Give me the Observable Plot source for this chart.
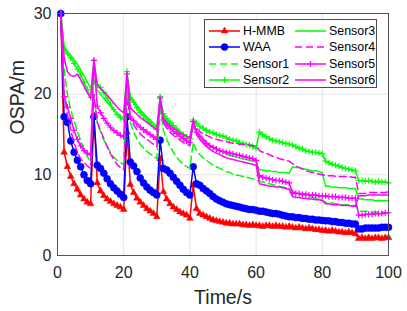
<!DOCTYPE html>
<html><head><meta charset="utf-8">
<script src="https://cdn.jsdelivr.net/npm/d3@7"></script>
<script src="https://cdn.jsdelivr.net/npm/@observablehq/plot@0.6"></script>
<style>
body{margin:0;background:#fff;}
#wrap{position:relative;width:407px;height:311px;font-family:"Liberation Sans",Arial,Helvetica,sans-serif;}
#legend{position:absolute;left:204px;top:19px;width:171px;height:67px;border:1px solid #4d4d4d;background:#fff;}
.item{position:absolute;height:14px;display:flex;align-items:center;font-size:12.4px;color:#000;white-space:nowrap;}
.item svg{display:block;margin-right:2px;}
</style></head>
<body><div id="wrap"><div id="chart"></div><div id="legend"></div></div>
<script>
const time = d3.range(1, 101);

const hmmb = [30,12.8,11.0,9.8,8.9,8.2,7.5,7.0,6.6,6.4,
17.4,9.0,8.0,7.4,7.0,6.7,6.4,6.2,6.0,5.7,
15.3,8.8,7.8,7.1,6.6,6.2,5.8,5.5,5.2,4.8,
12.0,7.9,7.0,6.4,6.0,5.7,5.4,5.2,5.0,4.6,
8.7,5.8,5.2,5.0,4.8,4.6,4.4,4.3,4.2,4.1,
4.0,4.0,3.9,3.9,3.9,3.8,3.8,3.7,3.8,3.7,
3.7,3.6,3.7,3.7,3.6,3.7,3.6,3.6,3.5,3.6,
3.5,3.4,3.5,3.4,3.3,3.4,3.3,3.2,3.2,3.1,
3.1,3.0,3.1,3.0,2.9,2.9,2.8,2.9,2.8,2.7,
2.1,2.2,2.1,2.2,2.1,2.2,2.2,2.1,2.2,2.2];

const waa = [30,17.2,16.5,14.2,12.8,11.8,11.0,10.0,9.3,8.9,
17.2,11.2,10.8,10.2,9.5,8.9,8.4,8.0,7.6,7.2,
17.2,11.6,11.1,10.4,9.6,9.0,8.5,8.1,7.8,7.5,
14.3,10.8,10.6,10.2,9.7,9.2,8.7,8.2,7.8,7.5,
11.0,8.9,8.7,8.3,8.0,7.7,7.3,7.0,6.8,6.6,
6.4,6.3,6.2,6.1,6.0,5.9,5.8,5.7,5.7,5.6,
5.5,5.5,5.4,5.3,5.2,5.2,5.1,5.0,4.9,4.8,
4.8,4.7,4.7,4.6,4.6,4.5,4.5,4.4,4.4,4.35,
4.3,4.3,4.2,4.2,4.1,4.1,4.0,4.0,3.9,3.9,
3.3,3.3,3.4,3.4,3.4,3.4,3.4,3.5,3.5,3.5];

const sensor1 = [30,23.0,20.0,18.0,16.8,15.4,14.2,13.2,12.3,11.6,
20.0,16.5,15.3,14.3,13.5,12.8,12.2,11.8,11.5,11.3,
20.5,16.5,15.3,14.5,13.8,13.3,12.9,12.6,12.3,12.0,
18.5,15.5,14.4,13.5,12.8,12.2,11.7,11.3,11.0,10.8,
14.0,13.0,12.5,12.1,11.8,11.5,11.2,11.0,10.8,10.6,
10.4,10.3,10.1,10.0,9.9,9.8,9.7,9.6,9.5,9.4,
9.2,9.1,9.0,8.9,8.8,8.7,8.6,8.5,8.4,8.3,
8.0,7.8,7.6,7.5,7.4,7.3,7.2,7.1,7.0,6.9,
6.6,6.5,6.5,6.4,6.4,6.3,6.3,6.3,6.2,6.2,
5.5,5.5,5.5,5.4,5.4,5.4,5.4,5.4,5.3,5.3];

const sensor2 = [30,25.5,25.0,24.5,23.8,23.1,22.4,21.5,20.6,19.6,
24.2,21.2,20.8,20.2,19.5,18.8,18.1,17.5,17.1,16.9,
22.8,19.5,19.0,18.3,17.7,17.3,16.9,16.5,16.0,15.6,
19.7,17.6,17.0,16.5,16.1,15.7,15.3,15.0,14.7,14.5,
16.8,16.4,16.0,15.8,15.5,15.3,15.2,15.0,14.9,14.8,
14.6,14.4,14.3,14.2,14.0,13.9,13.8,13.7,13.5,13.3,
15.3,15.0,14.7,14.5,14.3,14.2,14.1,14.0,13.9,13.8,
13.7,13.5,13.3,13.2,13.0,12.9,12.8,12.8,12.7,12.6,
11.7,11.5,11.3,11.2,11.1,10.9,10.8,10.7,10.6,10.5,
9.3,9.3,9.2,9.3,9.2,9.1,9.2,9.1,9.1,9.0];

const sensor3 = [30,26.0,25.3,24.8,24.3,23.7,23.0,22.3,21.5,20.8,
21.8,20.5,20.0,19.5,19.0,18.5,18.0,17.6,17.3,17.0,
21.5,19.8,19.2,18.6,18.1,17.6,17.2,16.8,16.4,16.0,
18.5,17.3,16.8,16.3,15.9,15.5,15.2,14.9,14.6,14.4,
16.0,15.3,14.8,14.4,14.0,13.7,13.4,13.2,13.0,12.8,
12.6,12.4,12.3,12.2,12.1,12.0,11.9,11.8,11.7,11.6,
10.6,10.6,10.5,10.5,10.4,10.4,10.3,10.3,10.3,10.2,
11.0,10.9,10.9,10.8,10.7,10.6,10.5,10.5,10.4,10.3,
8.6,8.6,8.5,8.5,8.4,8.4,8.4,8.3,8.3,8.3,
7.0,7.0,6.9,6.9,6.9,6.8,6.8,6.8,6.8,6.8];

const sensor4 = [30,20.0,17.5,15.5,14.0,12.8,12.0,11.5,11.1,10.8,
20.0,16.5,15.5,14.5,13.5,12.6,11.9,11.3,10.9,10.6,
19.5,17.0,16.2,15.6,15.1,14.7,14.4,14.1,13.8,13.5,
19.0,16.5,15.8,15.3,14.9,14.6,14.3,14.0,13.8,13.6,
16.5,15.8,15.4,15.1,14.9,14.7,14.5,14.4,14.3,14.2,
14.1,14.0,13.9,13.9,13.8,13.8,13.7,13.7,13.6,13.6,
13.0,12.8,12.7,12.5,12.3,12.2,12.0,11.9,11.8,11.7,
11.4,11.1,10.9,10.7,10.5,10.4,10.3,10.2,10.1,10.0,
9.9,9.9,9.9,9.8,9.8,9.8,9.8,9.8,9.7,9.7,
7.7,7.7,7.7,7.8,7.8,7.8,7.8,7.8,7.8,7.9];

const sensor5 = [30,19.7,18.4,17.0,15.5,14.4,13.6,13.0,12.7,12.5,
24.2,18.5,17.7,17.0,16.4,15.9,15.5,15.2,14.9,14.7,
22.5,17.2,16.7,16.3,15.9,15.6,15.3,15.0,14.7,14.4,
19.5,16.8,16.2,15.8,15.4,15.1,14.8,14.5,14.2,14.0,
16.6,15.3,14.8,14.3,13.9,13.6,13.4,13.2,13.0,12.9,
12.8,12.7,12.6,12.5,12.4,12.3,12.2,12.1,12.0,11.8,
9.9,9.7,9.6,9.5,9.4,9.3,9.3,9.2,9.1,9.0,
7.8,7.7,7.7,7.6,7.6,7.5,7.5,7.5,7.4,7.4,
7.4,7.3,7.3,7.3,7.2,7.2,7.2,7.1,7.1,7.1,
5.0,5.0,5.1,5.1,5.1,5.2,5.2,5.2,5.3,5.3];

const sensor6 = [30,24.5,22.8,22.3,22.2,22.5,21.8,21.0,20.2,19.5,
24.2,21.1,20.7,20.3,19.9,19.4,18.9,18.4,18.0,17.7,
22.5,18.3,17.9,17.5,17.1,16.8,16.5,16.2,15.9,15.6,
19.5,17.0,16.5,16.1,15.8,15.5,15.2,15.0,14.8,14.6,
16.8,15.0,14.4,13.9,13.5,13.2,12.9,12.7,12.5,12.3,
12.1,12.0,11.9,11.8,11.7,11.6,11.5,11.4,11.3,11.2,
8.9,8.8,8.7,8.6,8.6,8.5,8.5,8.4,8.3,8.2,
7.3,7.2,7.2,7.1,7.1,7.0,7.0,6.9,6.9,6.8,
6.4,6.4,6.3,6.3,6.3,6.2,6.2,6.2,6.1,6.1,
7.4,7.4,7.4,7.5,7.5,7.5,7.5,7.5,7.5,7.5];

const names = ["H-MMB","WAA","Sensor1","Sensor2","Sensor3","Sensor4","Sensor5","Sensor6"];
const xTicks = [0,20,40,60,80,100];
const yTicks = [0,10,20,30];
const xLabel = "Time/s";
const yLabel = "OSPA/m";

const seriesValues = [hmmb, waa, sensor1, sensor2, sensor3, sensor4, sensor5, sensor6];
const colors = ["#ff0000","#0000ff","#00ff00","#00ff00","#00ff00","#ff00ff","#ff00ff","#ff00ff"];
const dashes = [null,null,"7,4",null,null,"7,4",null,null];
const symbols = ["triangle","circle",null,"plus",null,null,"plus",null];
const symR = {triangle: 2.5, circle: 3.5, plus: 2.1};

const marks = [
  Plot.gridX(xTicks, {stroke: "#e3e3e3", strokeOpacity: 1}),
  Plot.gridY(yTicks, {stroke: "#e3e3e3", strokeOpacity: 1}),
  Plot.axisX({ticks: xTicks, tickSize: 0, tickPadding: 11, label: null, fontSize: 16}),
  Plot.axisY({ticks: yTicks, tickSize: 0, tickPadding: 6, label: null, fontSize: 16}),
];
seriesValues.forEach((vals, i) => {
  const opts = {x: time, y: vals, stroke: colors[i], strokeWidth: 1.5};
  if (dashes[i]) opts.strokeDasharray = dashes[i];
  marks.push(Plot.line(time, opts));
  const s = symbols[i];
  if (s === "plus") {
    marks.push(Plot.dot(time, {x: time, y: vals, symbol: "plus", r: symR.plus, stroke: colors[i], fill: "none", strokeWidth: 1.2}));
  } else if (s) {
    marks.push(Plot.dot(time, {x: time, y: vals, symbol: s, r: symR[s], fill: colors[i], stroke: colors[i], strokeWidth: 0.5}));
  }
});
marks.push(Plot.frame({stroke: "#555", strokeWidth: 1}));
marks.push(Plot.text([xLabel], {frameAnchor: "bottom", dy: 42, fontSize: 19.5, fill: "#262626", lineAnchor: "middle"}));
marks.push(Plot.text([yLabel], {frameAnchor: "left", dx: -40, rotate: -90, fontSize: 19.5, fill: "#262626", lineAnchor: "middle"}));

const chart = Plot.plot({
  width: 407, height: 311,
  marginLeft: 57, marginRight: 19, marginTop: 13, marginBottom: 56,
  x: {domain: [0, 100]},
  y: {domain: [0, 30]},
  style: {fontFamily: '"Liberation Sans", Arial, Helvetica, sans-serif', fontSize: "16px", color: "#262626", background: "#fff", overflow: "visible"},
  marks
});
document.getElementById("chart").appendChild(chart);

// legend
const legend = document.getElementById("legend");
names.forEach((name, i) => {
  const col = Math.floor(i / 4), row = i % 4;
  const item = document.createElement("div");
  item.className = "item";
  item.style.left = (col === 0 ? 3 : 89) + "px";
  item.style.top = (4 + row * 16.4) + "px";
  const svg = d3.create("svg").attr("width", 33).attr("height", 14);
  svg.append("line").attr("x1", 1).attr("x2", 32).attr("y1", 7).attr("y2", 7)
    .attr("stroke", colors[i]).attr("stroke-width", 1.5)
    .attr("stroke-dasharray", dashes[i] || null);
  const s = symbols[i];
  if (s) {
    const sym = s === "triangle" ? d3.symbolTriangle : s === "circle" ? d3.symbolCircle : d3.symbolPlus;
    const r = symR[s];
    svg.append("path").attr("transform", "translate(16.5,7)")
      .attr("d", d3.symbol(sym, Math.PI * r * r)())
      .attr("fill", s === "plus" ? "none" : colors[i])
      .attr("stroke", colors[i]).attr("stroke-width", s === "plus" ? 1.2 : 0.5);
  }
  item.appendChild(svg.node());
  const span = document.createElement("span");
  span.textContent = name;
  item.appendChild(span);
  legend.appendChild(item);
});
</script>
</body></html>
